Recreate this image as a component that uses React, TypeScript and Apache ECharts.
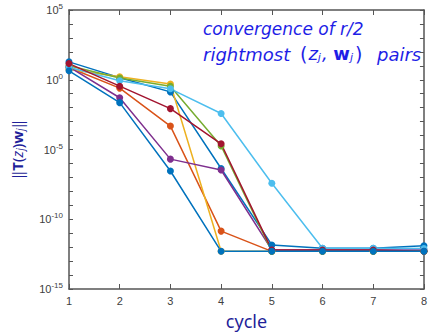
import React, { useEffect, useRef } from "react";
import * as echarts from "echarts";

const cycles = [1, 2, 3, 4, 5, 6, 7, 8];
const colors = ["#0072BD", "#D95319", "#EDB120", "#7E2F8E", "#77AC30", "#4DBEEE", "#A2142F", "#0072BD"];
// log10 of residual norms per cycle
const blueA = [1.28, 0.15, -0.87, -6.36, -11.84, -12.08, -12.08, -11.9];
const orange = [0.88, -0.6, -3.32, -10.85, -12.3, -12.3, -12.3, -12.3];
const yellow = [0.76, 0.22, -0.3, -12.3, -12.3, -12.3, -12.3, -12.3];
const purple = [0.92, -1.29, -5.69, -6.47, -12.2, -12.2, -12.2, -12.2];
const green = [1.0, 0.12, -0.46, -4.75, -12.3, -12.3, -12.3, -12.3];
const lightBlue = [0.9, -0.07, -0.65, -2.42, -7.42, -12.08, -12.08, -12.1];
const darkRed = [1.16, -0.46, -2.07, -4.59, -12.2, -12.2, -12.2, -12.3];
const blueB = [0.64, -1.64, -6.54, -12.3, -12.3, -12.3, -12.3, -12.3];
const seriesExps = [blueA, orange, yellow, purple, green, lightBlue, darkRed, blueB];
const labelExps = [-15, -10, -5, 0, 5];

export default function App() {
  const ref = useRef<HTMLDivElement>(null);
  useEffect(() => {
    if (!ref.current) return;
    const chart = echarts.init(ref.current, null, { renderer: "svg" });
    const axisGray = "#404040";
    const font = "'Liberation Sans', Arial, sans-serif";
    const tfont = "'DejaVu Sans', sans-serif";
    const blue = "#1E1EE6";
    const line2Top = 45;
    chart.setOption({
      animation: false,
      grid: { left: 69, right: 3, top: 10, bottom: 42 },
      xAxis: [
        {
          type: "value", min: 1, max: 8, interval: 1,
          axisLine: { show: true, lineStyle: { color: "#555", width: 1.5 } },
          axisTick: { show: true, inside: true, length: 5, lineStyle: { color: "#555" } },
          axisLabel: { color: axisGray, fontSize: 11, fontFamily: font, margin: 6 },
          splitLine: { show: false },
          name: "cycle", nameLocation: "middle", nameGap: 23,
          nameTextStyle: { color: "#1F1F99", fontSize: 18, fontFamily: "'Noto Sans', sans-serif" },
        },
        {
          type: "value", min: 1, max: 8, interval: 1, position: "top",
          axisLine: { show: true, onZero: false, lineStyle: { color: "#555", width: 1.5 } },
          axisTick: { show: true, inside: true, length: 5, lineStyle: { color: "#555" } },
          axisLabel: { show: false }, splitLine: { show: false },
        },
      ],
      yAxis: [
        {
          type: "log", logBase: 10, min: 1e-15, max: 1e5, interval: 1,
          axisLine: { show: true, lineStyle: { color: "#555", width: 1.5 } },
          axisTick: { show: true, inside: true, length: 4, lineStyle: { color: "#555" } },
          axisLabel: {
            color: axisGray, fontSize: 11, fontFamily: font, margin: 6,
            formatter: (v: number) => {
              const e = Math.round(Math.log10(v));
              return labelExps.includes(e) ? `10{sup|${e}}` : "";
            },
            rich: { sup: { fontSize: 8, color: axisGray, fontFamily: font, verticalAlign: "top", padding: [0, 0, 7, 0] } },
          },
          splitLine: { show: false },
          name: "{n|‖}{b|T}{n|(}{i|z}{s|j}{n|)}{b|w}{s|j}{n|‖}",
          nameLocation: "middle", nameRotate: 90, nameGap: 44,
          nameTextStyle: {
            rich: {
              n: { fontSize: 15, color: "#1F1F99", fontFamily: "'Noto Sans', sans-serif" },
              b: { fontSize: 15, color: "#1F1F99", fontWeight: "bold", fontFamily: "'Noto Sans', sans-serif" },
              i: { fontSize: 15, color: "#1F1F99", fontStyle: "italic", fontFamily: "'Noto Sans', sans-serif" },
              s: { fontSize: 10, color: "#1F1F99", fontStyle: "italic", fontFamily: "'Noto Sans', sans-serif", padding: [6, 0, 0, 0] },
            },
          },
        },
        {
          type: "log", logBase: 10, min: 1e-15, max: 1e5, interval: 1, position: "right",
          axisLine: { show: true, onZero: false, lineStyle: { color: "#555", width: 1.5 } },
          axisTick: { show: true, inside: true, length: 4, lineStyle: { color: "#555" } },
          axisLabel: { show: false }, splitLine: { show: false },
        },
      ],
      graphic: [
        {
          type: "text", left: 203, top: 20,
          style: {
            text: "convergence of r/2",
            fill: blue, fontSize: 17, fontStyle: "italic", fontFamily: tfont,
          },
        },
        {
          type: "text", left: 203, top: line2Top,
          style: { text: "rightmost", fill: blue, fontSize: 18, fontStyle: "italic", fontFamily: tfont },
        },
        {
          type: "text", left: 300, top: line2Top - 1,
          style: {
            text: "{n|(}{i|z}{s|j}{i|,} {b|w}{s|j}{n|)}",
            fill: blue, fontSize: 18, fontStyle: "italic", fontFamily: tfont,
            rich: {
              n: { fontSize: 19, fill: blue, fontFamily: tfont, padding: [0, 1, 0, 1] },
              i: { fontSize: 18, fill: blue, fontStyle: "italic", fontFamily: tfont },
              b: { fontSize: 18, fill: blue, fontWeight: "bold", fontFamily: tfont },
              s: { fontSize: 11, fill: blue, fontStyle: "italic", fontFamily: tfont, padding: [8, 1, 0, 0] },
            },
          },
        },
        {
          type: "text", left: 377, top: line2Top,
          style: { text: "pairs", fill: blue, fontSize: 18, fontStyle: "italic", fontFamily: tfont },
        },
      ],
      series: seriesExps.map((exps, k) => ({
        type: "line",
        xAxisIndex: 0,
        yAxisIndex: 0,
        data: cycles.map((c, i) => [c, Math.pow(10, exps[i])]),
        symbol: "circle",
        symbolSize: 7,
        showSymbol: true,
        color: colors[k],
        lineStyle: { width: 1.5, color: colors[k] },
        itemStyle: { color: colors[k] },
      })),
    });
    return () => chart.dispose();
  }, []);
  return <div ref={ref} style={{ width: 430, height: 335, position: "absolute", left: 0, top: 0 }} />;
}
